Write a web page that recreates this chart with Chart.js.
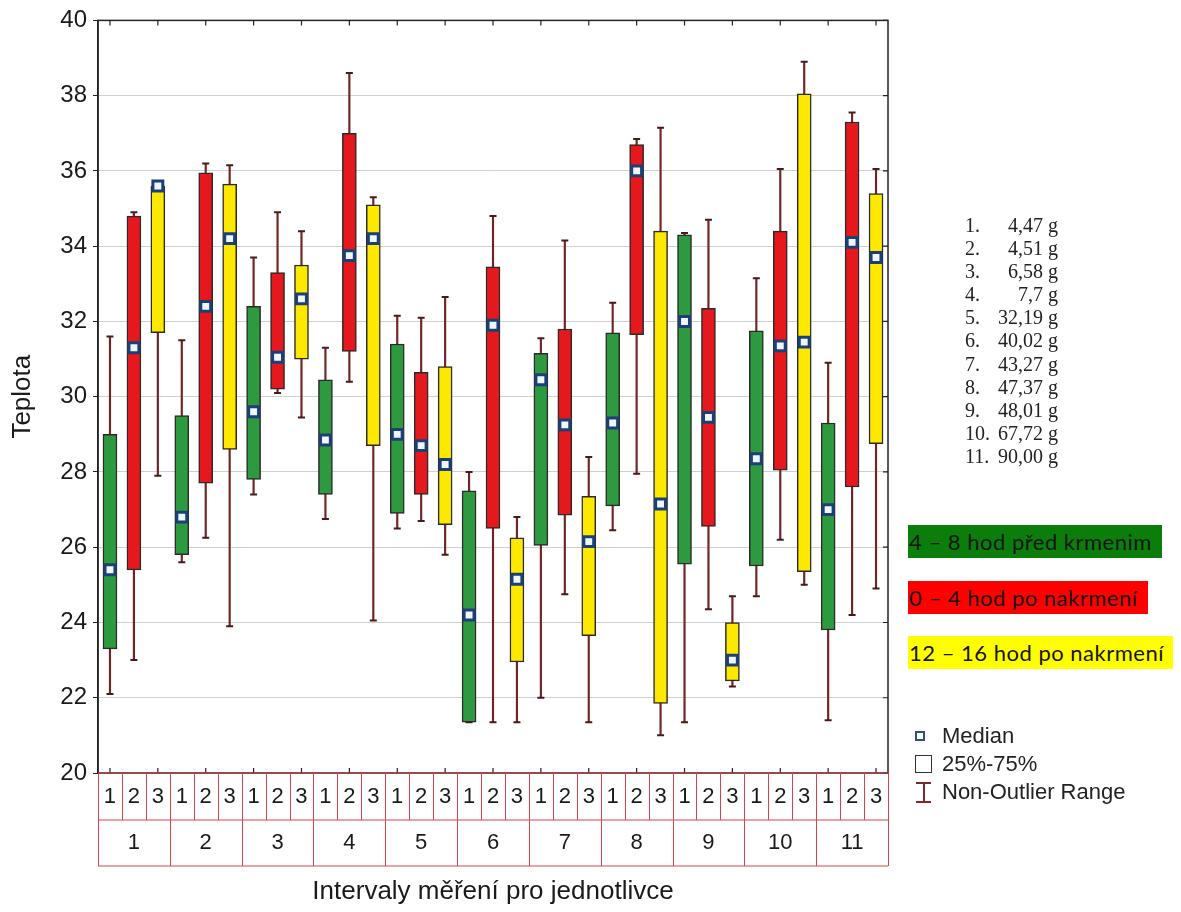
<!DOCTYPE html>
<html>
<head>
<meta charset="utf-8">
<script src="https://cdn.jsdelivr.net/npm/chart.js@4.4.0/dist/chart.umd.min.js"></script>
<style>
  body { margin: 0; background: #fff; }
  #wrap { position: relative; width: 1181px; height: 912px; }
  #chart { position: absolute; left: 0; top: 0; }
  .masses { position: absolute; left: 965px; top: 214px; font-family: "Liberation Serif", "Times New Roman", serif;
            font-size: 20px; line-height: 23.1px; color: #222; white-space: nowrap; }
  .masses .n { display: inline-block; width: 27px; }
  .masses .v { display: inline-block; width: 51px; text-align: right; }
  .tag { position: absolute; left: 908px; height: 33px; line-height: 33px; font-family: Lato, "Open Sans", sans-serif;
         font-size: 22px; letter-spacing: 0.5px; color: #151515; white-space: nowrap; padding-left: 1px; box-sizing: border-box; }
  .key { position: absolute; left: 942px; font-family: Arial, "Liberation Sans", sans-serif; font-size: 22px;
         color: #222; line-height: 26px; white-space: nowrap; }
  .ico { position: absolute; box-sizing: border-box; }
</style>
</head>
<body>
<div id="wrap">
  <canvas id="chart" width="1181" height="912"></canvas>

  <div class="masses">
    <div><span class="n">1.</span><span class="v">4,47</span> g</div>
    <div><span class="n">2.</span><span class="v">4,51</span> g</div>
    <div><span class="n">3.</span><span class="v">6,58</span> g</div>
    <div><span class="n">4.</span><span class="v">7,7</span> g</div>
    <div><span class="n">5.</span><span class="v">32,19</span> g</div>
    <div><span class="n">6.</span><span class="v">40,02</span> g</div>
    <div><span class="n">7.</span><span class="v">43,27</span> g</div>
    <div><span class="n">8.</span><span class="v">47,37</span> g</div>
    <div><span class="n">9.</span><span class="v">48,01</span> g</div>
    <div><span class="n">10.</span><span class="v">67,72</span> g</div>
    <div><span class="n">11.</span><span class="v">90,00</span> g</div>
  </div>

  <div class="tag" style="top:525px; width:254px; background:#0b7d0b;">4 – 8 hod před krmenim</div>
  <div class="tag" style="top:581px; width:240px; background:#ff0000;">0 – 4 hod po nakrmení</div>
  <div class="tag" style="top:636px; width:265px; background:#ffff00;">12 – 16 hod po nakrmení</div>

  <div class="ico" style="left:915px; top:731px; width:10px; height:10px; border:2px solid #2c4f86; background:#fff;"></div>
  <div class="key" style="top:723px;">Median</div>
  <div class="ico" style="left:915px; top:755px; width:17px; height:18px; border:1px solid #333;"></div>
  <div class="key" style="top:751px;">25%-75%</div>
  <div class="ico" style="left:916px; top:782px; width:15px; height:1.5px; background:#7a2a2a;"></div>
  <div class="ico" style="left:923px; top:782px; width:1.5px; height:20px; background:#7a2a2a;"></div>
  <div class="ico" style="left:916px; top:801px; width:15px; height:1.5px; background:#7a2a2a;"></div>
  <div class="key" style="top:779px;">Non-Outlier Range</div>
</div>

<script>
// body temperature per animal (1-11) and measuring interval; [min, q1, median, q3, max]
const groups = ['1', '2', '3', '4', '5', '6', '7', '8', '9', '10', '11'];
const intervals = ['1', '2', '3'];

// 4 – 8 h before feeding
const predKrmenim = [
  [22.1, 23.3, 25.4, 29.0, 31.6],
  [25.6, 25.8, 26.8, 29.5, 31.5],
  [27.4, 27.8, 29.6, 32.4, 33.7],
  [26.75, 27.4, 28.85, 30.45, 31.3],
  [26.5, 26.9, 29.0, 31.4, 32.15],
  [21.35, 21.35, 24.2, 27.5, 28.0],
  [22.0, 26.05, 30.45, 31.15, 31.55],
  [26.45, 27.1, 29.3, 31.7, 32.5],
  [21.35, 25.55, 32.0, 34.3, 34.35],
  [24.7, 25.5, 28.35, 31.75, 33.15],
  [21.4, 23.8, 27.0, 29.3, 30.9]
];
// 0 – 4 h after feeding
const poNakrmeni04 = [
  [23.0, 25.4, 31.3, 34.8, 34.9],
  [26.25, 27.7, 32.4, 35.95, 36.2],
  [30.1, 30.2, 31.05, 33.3, 34.9],
  [30.4, 31.2, 33.75, 37.0, 38.6],
  [26.7, 27.4, 28.7, 30.65, 32.1],
  [21.35, 26.5, 31.9, 33.45, 34.8],
  [24.75, 26.85, 29.25, 31.8, 34.15],
  [27.95, 31.65, 36.0, 36.7, 36.85],
  [24.35, 26.55, 29.45, 32.35, 34.7],
  [26.2, 28.05, 31.35, 34.4, 36.05],
  [24.2, 27.6, 34.1, 37.3, 37.55]
];
// 12 – 16 h after feeding
const poNakrmeni1216 = [
  [27.9, 31.7, 35.6, 35.6, 35.7],
  [23.9, 28.6, 34.2, 35.65, 36.15],
  [29.45, 31.0, 32.6, 33.5, 34.4],
  [24.05, 28.7, 34.2, 35.1, 35.3],
  [25.8, 26.6, 28.2, 30.8, 32.65],
  [21.35, 22.95, 25.15, 26.25, 26.8],
  [21.35, 23.65, 26.15, 27.35, 28.4],
  [21.0, 21.85, 27.15, 34.4, 37.15],
  [22.3, 22.45, 23.0, 24.0, 24.7],
  [25.0, 25.35, 31.45, 38.05, 38.9],
  [24.9, 28.75, 33.7, 35.4, 36.05]
];

const series = [predKrmenim, poNakrmeni04, poNakrmeni1216];
const boxColors = ['#2e9a3f', '#e4181d', '#fde900'];

// one slot per box: groups x intervals
const slots = [];
groups.forEach((g, gi) => series.forEach((s, si) => slots.push({ s: si, v: s[gi] })));

const whiskerColor = '#702424';

// plot frame, small inward ticks and the red category table under the plot
const frameAndTable = {
  id: 'frameAndTable',
  afterDraw(chart) {
    const { ctx, chartArea: a, scales: { x, x2, y } } = chart;
    const half = (x.getPixelForValue(1) - x.getPixelForValue(0)) / 2;
    const rowBottom = x2.top + 46;
    ctx.save();

    ctx.strokeStyle = '#222';
    ctx.lineWidth = 1.5;
    ctx.strokeRect(a.left, a.top, a.right - a.left, a.bottom - a.top);

    ctx.lineWidth = 1.2;
    ctx.beginPath();
    for (let i = 0; i < slots.length; i += 2) {
      const px = x.getPixelForValue(i);
      ctx.moveTo(px, a.top); ctx.lineTo(px, a.top + 5);
      ctx.moveTo(px, a.bottom); ctx.lineTo(px, a.bottom - 5);
    }
    y.ticks.forEach(t => {
      const py = y.getPixelForValue(t.value);
      ctx.moveTo(a.right, py); ctx.lineTo(a.right - 5, py);
    });
    ctx.stroke();

    ctx.strokeStyle = '#d5454a';
    ctx.lineWidth = 1;
    ctx.beginPath();
    [x.top, x2.top, rowBottom].forEach(py => { ctx.moveTo(a.left, py); ctx.lineTo(a.right, py); });
    for (let i = 0; i <= slots.length; i++) {
      const px = Math.round(x.getPixelForValue(Math.min(i, slots.length - 1)) + (i < slots.length ? -half : half)) + 0.5;
      ctx.moveTo(px, x.top); ctx.lineTo(px, x.bottom);
    }
    for (let g = 0; g <= groups.length; g++) {
      const i = g * intervals.length;
      const px = Math.round(x.getPixelForValue(Math.min(i, slots.length - 1)) + (i < slots.length ? -half : half)) + 0.5;
      ctx.moveTo(px, x2.top); ctx.lineTo(px, rowBottom);
    }
    ctx.stroke();
    ctx.restore();
  }
};

Chart.defaults.font.family = 'Arial, "Liberation Sans", sans-serif';
Chart.defaults.color = '#1a1a1a';

const ctx = document.getElementById('chart').getContext('2d');
const chart = new Chart(ctx, {
  type: 'bar',
  data: {
    labels: slots.map(sl => intervals[sl.s]),
    datasets: [{
      label: 'Non-Outlier Range',
      data: slots.map(sl => [sl.v[0], sl.v[4]]),
      backgroundColor: whiskerColor,
      barThickness: 1.5,
      grouped: false,
      order: 4
    }, {
      label: '25%-75%',
      data: slots.map(sl => [sl.v[1], sl.v[3]]),
      backgroundColor: slots.map(sl => boxColors[sl.s]),
      borderColor: '#2a2a2a',
      borderWidth: 1.5,
      borderSkipped: false,
      barThickness: 14,
      grouped: false,
      order: 3
    }, {
      type: 'line',
      label: 'max',
      data: slots.map(sl => sl.v[4]),
      showLine: false,
      pointStyle: 'line',
      pointRadius: 3.5,
      pointBorderWidth: 2,
      pointBorderColor: '#4a1a1a',
      order: 2
    }, {
      type: 'line',
      label: 'min',
      data: slots.map(sl => sl.v[0]),
      showLine: false,
      pointStyle: 'line',
      pointRadius: 3.5,
      pointBorderWidth: 2,
      pointBorderColor: '#4a1a1a',
      order: 2
    }, {
      type: 'line',
      label: 'Median',
      data: slots.map(sl => sl.v[2]),
      showLine: false,
      pointStyle: 'rect',
      pointRadius: 7,
      pointBorderWidth: 3,
      pointBackgroundColor: '#eef7fc',
      pointBorderColor: '#1d3f78',
      order: 1
    }]
  },
  options: {
    responsive: false,
    animation: false,
    layout: { padding: { top: 20, right: 293, left: 0, bottom: 0 } },
    plugins: { legend: { display: false }, tooltip: { enabled: false } },
    scales: {
      x: {
        type: 'category',
        offset: true,
        grid: { display: false, drawTicks: false },
        border: { display: false },
        ticks: { font: { size: 22 }, padding: 11, autoSkip: false, maxRotation: 0 },
        afterFit(s) { s.height = 47; }
      },
      x2: {
        type: 'category',
        position: 'bottom',
        weight: 1,
        labels: groups,
        offset: true,
        grid: { display: false, drawTicks: false },
        border: { display: false },
        ticks: { font: { size: 22 }, padding: 10, autoSkip: false, maxRotation: 0 },
        title: { display: true, text: 'Intervaly měření pro jednotlivce', font: { size: 26 }, padding: { top: 0, bottom: 5 } },
        afterFit(s) { s.height = 92; }
      },
      y: {
        min: 20,
        max: 40,
        ticks: { stepSize: 2, font: { size: 24 }, padding: 6 },
        grid: { color: '#d0d0d0', tickColor: '#222', tickLength: 5 },
        border: { display: true, color: '#222', width: 1.5 },
        title: { display: true, text: 'Teplota', font: { size: 26 }, padding: { top: 7, bottom: 0 } },
        afterFit(s) { s.width = 98; }
      }
    }
  },
  plugins: [frameAndTable]
});
</script>
</body>
</html>
